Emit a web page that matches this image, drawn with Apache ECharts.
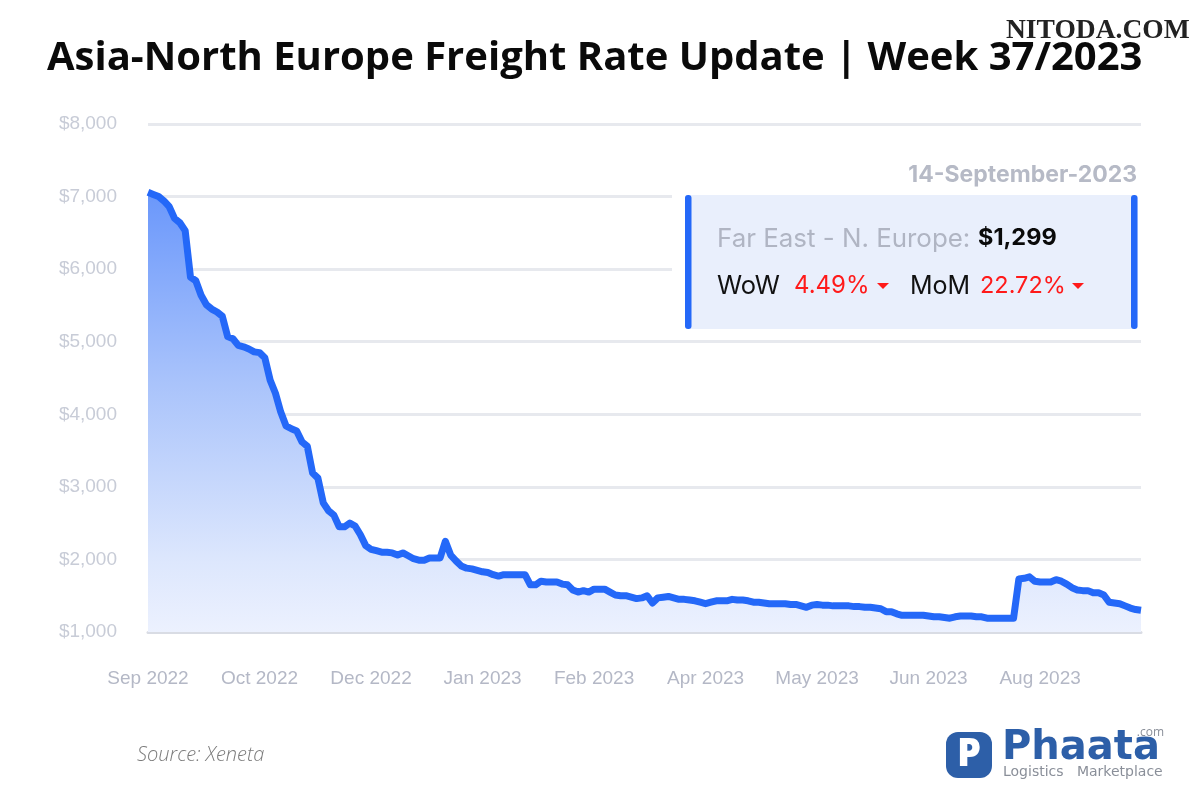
<!DOCTYPE html>
<html>
<head>
<meta charset="utf-8">
<title>Asia-North Europe Freight Rate Update</title>
<script src="https://cdn.jsdelivr.net/npm/echarts@6/dist/echarts.min.js"></script>
<style>
html,body{margin:0;padding:0;background:#fff}
#main{width:1200px;height:800px}
</style>
</head>
<body>
<div id="main"></div>
<script>
// month labels, one every 21 samples
const tickLabels = ['Sep 2022','Oct 2022','Dec 2022','Jan 2023','Feb 2023','Apr 2023','May 2023','Jun 2023','Aug 2023'];
const yTicks = [1000,2000,3000,4000,5000,6000,7000,8000];
// USD per FEU, one sample every two days
const rates = [
  7060,7030,7000,6940,6860,6700,6640,6530,5890,5840,
  5640,5510,5450,5410,5350,5070,5040,4950,4930,4900,
  4860,4850,4780,4470,4290,4030,3840,3800,3770,3620,
  3560,3190,3120,2780,2670,2610,2450,2450,2500,2460,
  2340,2190,2140,2120,2100,2100,2090,2060,2090,2050,
  2010,1990,1990,2020,2020,2020,2250,2060,1980,1910,
  1880,1870,1850,1830,1820,1790,1770,1790,1790,1790,
  1790,1790,1650,1650,1700,1690,1690,1690,1660,1650,
  1580,1550,1570,1550,1590,1590,1590,1550,1510,1500,
  1500,1480,1460,1470,1500,1400,1470,1480,1490,1470,
  1450,1450,1440,1430,1410,1390,1410,1430,1430,1430,
  1450,1440,1440,1430,1410,1410,1400,1390,1390,1390,
  1390,1380,1380,1360,1340,1370,1380,1370,1370,1360,
  1360,1360,1360,1350,1350,1340,1340,1330,1320,1280,
  1280,1250,1230,1230,1230,1230,1230,1220,1210,1210,
  1200,1190,1210,1220,1220,1220,1210,1210,1190,1190,
  1190,1190,1190,1190,1730,1740,1760,1700,1690,1690,
  1690,1720,1700,1660,1610,1580,1570,1570,1540,1540,
  1510,1410,1400,1390,1360,1330,1310,1299
];
const categories = rates.map((v, i) => i % 21 === 0 ? tickLabels[i / 21] : '');

const chart = echarts.init(document.getElementById('main'));

const boxFont = 'Inter, "Noto Sans", sans-serif';

function boxText(x, y, text, size, color, weight) {
  return {type:'text', z:20, style:{x:x, y:y, text:text, fontFamily:boxFont, fontSize:size, fontWeight:weight||400, fill:color, textVerticalAlign:'middle'}};
}
function triangle(x, y) {
  return {type:'polygon', z:20, shape:{points:[[x,y],[x+12,y],[x+6,y+6]]}, style:{fill:'#ff1a1a'}};
}

chart.setOption({
  animation: false,
  backgroundColor: '#fff',
  title: {
    text: 'Asia-North Europe Freight Rate Update | Week 37/2023',
    left: 42, top: 34,
    textStyle: {fontFamily:'"Open Sans"', fontWeight:700, fontSize:40, color:'#0a0a0a'}
  },
  grid: {left:148, right:59, top:124, bottom:168},
  xAxis: {
    type: 'category',
    data: categories,
    boundaryGap: false,
    axisTick: {show:false},
    axisLine: {lineStyle:{color:'#d9dce4', width:3}},
    axisLabel: {interval:20, margin:37, fontFamily:'"Liberation Sans"', fontSize:19, color:'#b4b8c6'}
  },
  yAxis: {
    type: 'value',
    min: yTicks[0],
    max: yTicks[yTicks.length - 1],
    interval: 1000,
    axisLine: {show:false},
    axisTick: {show:false},
    splitLine: {lineStyle:{color:'#e7e9ee', width:3}},
    axisLabel: {
      margin: 31, fontFamily:'"Liberation Sans"', fontSize:19, color:'#c8ccd7',
      formatter: v => '$' + v.toLocaleString('en-US')
    }
  },
  series: [{
    type: 'line',
    data: rates,
    symbol: 'none',
    clip: false,
    lineStyle: {color:'#2468f8', width:7, join:'round'},
    areaStyle: {
      opacity: 1,
      color: new echarts.graphic.LinearGradient(0, 0, 0, 1, [
        {offset:0, color:'#6a97fb'},
        {offset:0.43, color:'#a9c3fb'},
        {offset:0.84, color:'#dde7fd'},
        {offset:1, color:'#ecf1fe'}
      ])
    }
  }],
  graphic: [
    // watermark
    {type:'text', z:30, style:{x:1006, y:31, text:'NITODA.COM', fontFamily:'"Liberation Serif"', fontWeight:700, fontSize:27.5, fill:'#222', textVerticalAlign:'middle'}},

    // info box, white halo cuts the grid lines
    {type:'rect', z:10, shape:{x:672, y:186, width:470, height:150}, style:{fill:'#fff'}},
    {type:'rect', z:11, shape:{x:685, y:195, width:453, height:134, r:3}, style:{fill:'#e9effc'}},
    {type:'rect', z:12, shape:{x:685, y:195, width:6.5, height:134, r:3}, style:{fill:'#2468f8'}},
    {type:'rect', z:12, shape:{x:1131, y:195, width:6.5, height:134, r:3}, style:{fill:'#2468f8'}},
    {type:'text', z:20, style:{x:1137, y:175, text:'14-September-2023', fontFamily:boxFont, fontSize:23, fontWeight:700, fill:'#b6bac6', textAlign:'right', textVerticalAlign:'middle'}},
    boxText(717, 239, 'Far East - N. Europe:', 25.9, '#b0b5c3'),
    boxText(978, 238, '$1,299', 23.5, '#0a0a0a', 700),
    boxText(717, 286, 'WoW', 25.5, '#111'),
    boxText(794, 286, '4.49%', 24, '#ff1a1a'),
    triangle(877, 283),
    boxText(910, 286, 'MoM', 25, '#111'),
    boxText(980, 286, '22.72%', 23.5, '#ff1a1a'),
    triangle(1072, 283),

    // source
    {type:'text', style:{x:137, y:755, text:'Source: Xeneta', fontFamily:'"Open Sans"', fontStyle:'italic', fontWeight:300, fontSize:20, fill:'#7b7b7b', textVerticalAlign:'middle'}},

    // logo
    {type:'rect', shape:{x:946, y:732, width:46, height:46, r:12}, style:{fill:'#2d5fa8'}},
    {type:'text', style:{x:969, y:755, text:'P', fontFamily:'"Open Sans"', fontWeight:800, fontSize:38, fill:'#fff', textAlign:'center', textVerticalAlign:'middle'}},
    {type:'text', style:{x:1002, y:749, text:'Phaata', fontFamily:'"DejaVu Sans"', fontWeight:700, fontSize:40, fill:'#2d5fa8', textVerticalAlign:'middle'}},
    {type:'text', style:{x:1164, y:733, text:'.com', fontFamily:'"Open Sans"', fontSize:12, fill:'#8a8f99', textAlign:'right', textVerticalAlign:'middle'}},
    {type:'text', style:{x:1003, y:772, text:'Logistics   Marketplace', fontFamily:'"DejaVu Sans"', fontSize:14, fill:'#8a8f99', textVerticalAlign:'middle'}}
  ]
});
</script>
</body>
</html>
